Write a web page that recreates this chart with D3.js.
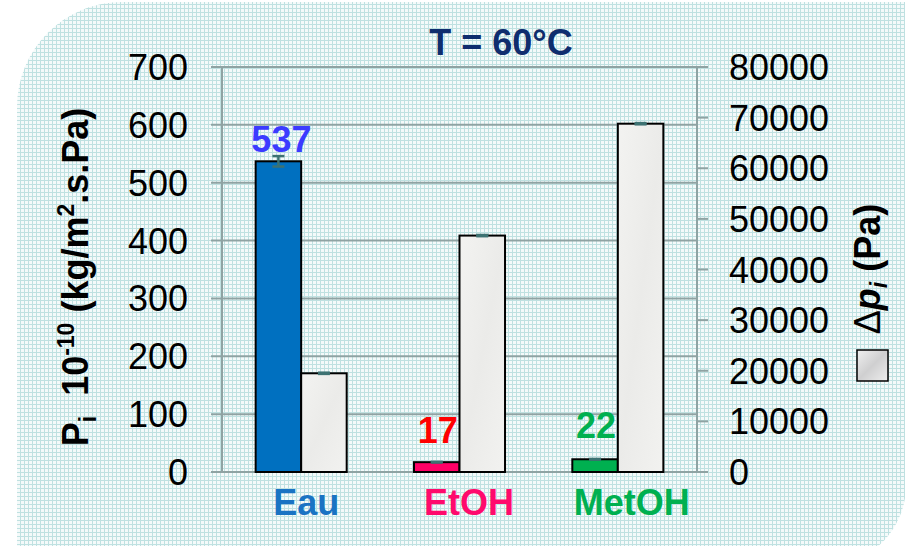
<!DOCTYPE html>
<html><head><meta charset="utf-8">
<script src="https://cdn.jsdelivr.net/npm/d3@7"></script>
<style>html,body{margin:0;padding:0;background:#fff;}svg{display:block;}</style>
</head><body>
<svg id="c" width="905" height="546"></svg>
<script>
// ---- data ----
const categories = ["Eau", "EtOH", "MetOH"];
const permeance = [537, 17, 22];          // Pi 10^-10 (kg/m².s.Pa)
const permeanceErr = [9, 0.6, 0.6];
const deltaP = [19500, 46700, 68800];     // Δpi (Pa)
const deltaPErr = [120, 120, 120];
const leftTicks = [0, 100, 200, 300, 400, 500, 600, 700];
const rightTicks = [0, 10000, 20000, 30000, 40000, 50000, 60000, 70000, 80000];

// ---- styles ----
const barColors = ["#0070c0", "#ff0066", "#00b050"];
const valueLabelColors = ["#3b3bff", "#ff0000", "#00b050"];
const catLabelColors = ["#1a73c3", "#ff0a6c", "#00b050"];
const labelLift = [9, 19, 21];
const gridColor = "#8fa3a3";
const errColor = "#3d7272";

const svg = d3.select("#c");
const defs = svg.append("defs");
const pat = defs.append("pattern").attr("id","bgpat").attr("width",4).attr("height",4).attr("patternUnits","userSpaceOnUse");
pat.append("rect").attr("width",4).attr("height",4).attr("fill","#f4fafa");
pat.append("rect").attr("width",4).attr("height",1).attr("fill","#bfe1e1");
pat.append("rect").attr("width",1).attr("height",4).attr("fill","#bfe1e1");
const lg = defs.append("linearGradient").attr("id","greyfill").attr("x1",0).attr("y1",0).attr("x2",1).attr("y2",1);
lg.append("stop").attr("offset","0%").attr("stop-color","#f3f3f1");
lg.append("stop").attr("offset","50%").attr("stop-color","#ebebe9");
lg.append("stop").attr("offset","100%").attr("stop-color","#f2f2f0");
const lg2 = defs.append("linearGradient").attr("id","legfill").attr("x1",0).attr("y1",0).attr("x2",1).attr("y2",1);
lg2.append("stop").attr("offset","0%").attr("stop-color","#f0f0f0");
lg2.append("stop").attr("offset","50%").attr("stop-color","#cfcfd0");
lg2.append("stop").attr("offset","100%").attr("stop-color","#eeeeee");

// background shape
svg.append("path")
  .attr("d","M17,548 L17,107 A105,105 0 0 1 122,2 L906,2 L906,478 A75,80 0 0 1 876,548 Z")
  .attr("fill","url(#bgpat)");

const pLeft = 222, pRight = 697, pTop = 67, pBottom = 472;
const yL = d3.scaleLinear().domain([0,700]).range([pBottom, pTop]);
const yR = d3.scaleLinear().domain([0,80000]).range([pBottom, pTop]);
const x = d3.scaleBand().domain(categories).range([pLeft, pRight]).paddingInner(0.425).paddingOuter(0.2125);
const xs = d3.scaleBand().domain(["P","dp"]).range([0, x.bandwidth()]);

// gridlines (left axis ticks)
const g = svg.append("g");
g.selectAll("line.grid").data(leftTicks).join("line")
  .attr("x1", 211).attr("x2", d => d === 700 ? 708 : pRight)
  .attr("y1", d => yL(d)).attr("y2", d => yL(d))
  .attr("stroke", gridColor).attr("stroke-width", 2);
// right ticks
const g2 = svg.append("g");
g2.selectAll("line").data(rightTicks).join("line")
  .attr("x1", pRight).attr("x2", 708)
  .attr("y1", d => yR(d)).attr("y2", d => yR(d))
  .attr("stroke", gridColor).attr("stroke-width", 2);
// axis lines
g.append("line").attr("x1", pLeft).attr("x2", pLeft).attr("y1", pTop).attr("y2", pBottom).attr("stroke", gridColor).attr("stroke-width", 2);
g.append("line").attr("x1", pRight).attr("x2", pRight).attr("y1", pTop).attr("y2", pBottom).attr("stroke", gridColor).attr("stroke-width", 2);

// tick labels
svg.append("g").selectAll("text").data(leftTicks).join("text")
  .attr("x", 188).attr("y", d => yL(d) + 13)
  .attr("text-anchor","end").attr("font-family","Liberation Sans, Arial, sans-serif")
  .attr("font-size", 36).attr("fill","#000").text(d => d);
svg.append("g").selectAll("text").data(rightTicks).join("text")
  .attr("x", 729).attr("y", d => yR(d) + 13)
  .attr("text-anchor","start").attr("font-family","Liberation Sans, Arial, sans-serif")
  .attr("font-size", 36).attr("fill","#000").text(d => d);

// bars
const bars = svg.append("g");
categories.forEach((c, i) => {
  const x0 = x(c);
  bars.append("rect")
    .attr("x", x0 + xs("P")).attr("y", yL(permeance[i]))
    .attr("width", xs.bandwidth()).attr("height", yL(0) - yL(permeance[i]))
    .attr("fill", barColors[i]).attr("stroke","#000").attr("stroke-width",2);
  bars.append("rect")
    .attr("x", x0 + xs("dp")).attr("y", yR(deltaP[i]))
    .attr("width", xs.bandwidth()).attr("height", yR(0) - yR(deltaP[i]))
    .attr("fill", "url(#greyfill)").attr("stroke","#000").attr("stroke-width",2);
});

// error bars
const eb = svg.append("g").attr("stroke", errColor).attr("stroke-width", 2.5);
function errBar(cx, yTop, yBot) {
  eb.append("line").attr("x1",cx).attr("x2",cx).attr("y1",yTop).attr("y2",yBot);
  eb.append("line").attr("x1",cx-6).attr("x2",cx+6).attr("y1",yTop).attr("y2",yTop);
  eb.append("line").attr("x1",cx-6).attr("x2",cx+6).attr("y1",yBot).attr("y2",yBot);
}
categories.forEach((c, i) => {
  const cxP = x(c) + xs("P") + xs.bandwidth()/2;
  const cxD = x(c) + xs("dp") + xs.bandwidth()/2;
  errBar(cxP, yL(permeance[i] + permeanceErr[i]), yL(permeance[i] - permeanceErr[i]));
  errBar(cxD, yR(deltaP[i] + deltaPErr[i]), yR(deltaP[i] - deltaPErr[i]));
});

// value labels
svg.append("g").selectAll("text").data(categories).join("text")
  .attr("x", (c) => x(c) + xs("P") + xs.bandwidth()/2 + (c === "Eau" ? 3 : 1))
  .attr("y", (c, i) => yL(permeance[i]) - labelLift[i])
  .attr("text-anchor","middle").attr("font-family","Liberation Sans, Arial, sans-serif")
  .attr("font-weight","bold").attr("font-size", 36)
  .attr("fill", (c, i) => valueLabelColors[i])
  .text((c, i) => permeance[i]);

// category labels
svg.append("g").selectAll("text").data(categories).join("text")
  .attr("x", (c, i) => x(c) + x.bandwidth()/2 + 5 + i * 4.5)
  .attr("y", 515)
  .attr("text-anchor","middle").attr("font-family","Liberation Sans, Arial, sans-serif")
  .attr("font-weight","bold").attr("font-size", 36)
  .attr("fill", (c, i) => catLabelColors[i])
  .text(c => c);

// title
svg.append("text").attr("x", 501).attr("y", 55).attr("text-anchor","middle")
  .attr("font-family","Liberation Sans, Arial, sans-serif").attr("font-weight","bold")
  .attr("font-size", 36).attr("fill","#0f2d6e").text("T = 60°C");

// left axis title
const lt = svg.append("text")
  .attr("transform","translate(88,277) rotate(-90)")
  .attr("text-anchor","middle")
  .attr("font-family","Liberation Sans, Arial, sans-serif").attr("font-weight","bold")
  .attr("font-size", 36).attr("fill","#000");
lt.append("tspan").text("P");
lt.append("tspan").attr("dy", 8).attr("font-size", 23).text("i");
lt.append("tspan").attr("dy", -8).text("\u00a0\u00a010");
lt.append("tspan").attr("dy", -14).attr("font-size", 23).text("-10");
lt.append("tspan").attr("dy", 14).text(" (kg/m");
lt.append("tspan").attr("dy", -14).attr("font-size", 23).text("2");
lt.append("tspan").attr("dy", 14).text(".s.Pa)");

// right axis title
const rt = svg.append("text")
  .attr("transform","translate(880,269) rotate(-90)")
  .attr("text-anchor","middle")
  .attr("font-family","Liberation Sans, Arial, sans-serif").attr("font-weight","bold")
  .attr("font-size", 36).attr("fill","#000");
rt.append("tspan").attr("font-weight","normal").text("\u0394");
rt.append("tspan").attr("font-style","italic").text("p");
rt.append("tspan").attr("dy", 7).attr("font-size", 23).attr("font-style","italic").text("i");
rt.append("tspan").attr("dy", -7).text(" (Pa)");

// legend key
svg.append("rect").attr("x", 857).attr("y", 350).attr("width", 31).attr("height", 31)
  .attr("fill","url(#legfill)").attr("stroke","#000").attr("stroke-width",1.5);
</script>
</body></html>
